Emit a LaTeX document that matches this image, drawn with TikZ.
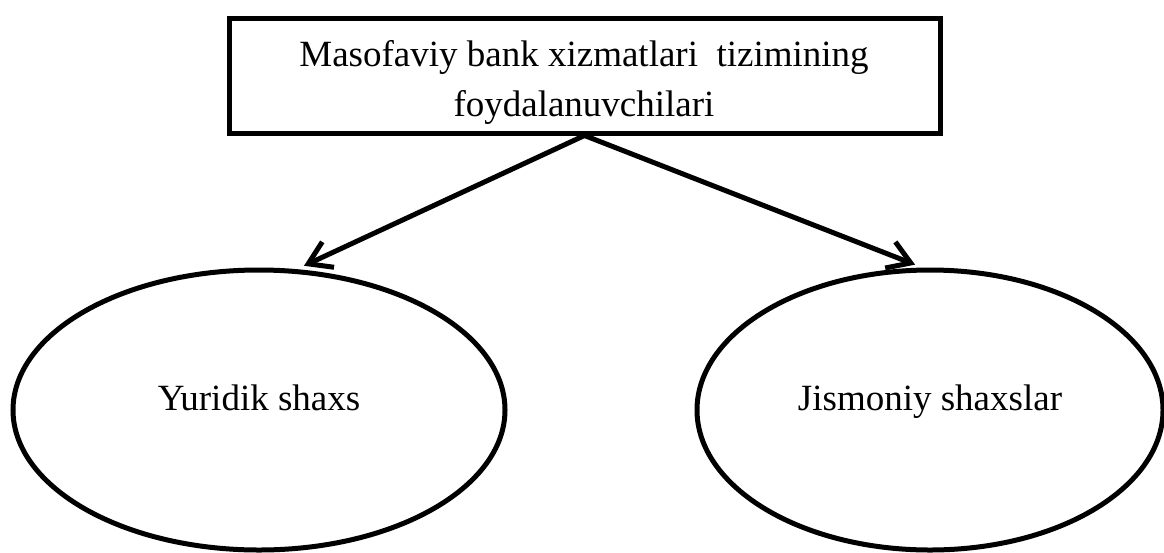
\documentclass[tikz,border=0pt]{standalone}
\usepackage{fontspec}
\setmainfont{Liberation Serif}
\usetikzlibrary{arrows.meta,shapes.geometric}
\begin{document}
\begin{tikzpicture}[x=1pt,y=-1pt,
  boxstyle/.style={draw, line width=5pt, rectangle, minimum width=711pt, minimum height=115pt, inner sep=0pt},
  toptextstyle/.style={align=center, inner sep=0pt, font=\fontsize{37}{50}\selectfont},
  ovalstyle/.style={draw, ellipse, line width=5pt, inner sep=0pt, minimum height=280pt,
     text height=27pt, text depth=27pt, font=\fontsize{37}{40}\selectfont},
  arrowstyle/.style={line width=5pt, -{Straight Barb[length=22pt,width=28pt]}, shorten >=8pt}]
\useasboundingbox (0,0) rectangle (1164,552);
\node[boxstyle] (top) at (584.5,75.5) {};
\node[toptextstyle] (toptext) at (584,82) {Masofaviy bank xizmatlari~ tizimining\\foydalanuvchilari};
\node[ovalstyle, minimum width=492pt] (left) at (259,410) {Yuridik shaxs};
\node[ovalstyle, minimum width=466pt] (right) at (930,410) {Jismoniy shaxslar};
\draw[arrowstyle] (top.south) -- (left.75);
\draw[arrowstyle] (top.south) -- (right.93);
\end{tikzpicture}
\end{document}
